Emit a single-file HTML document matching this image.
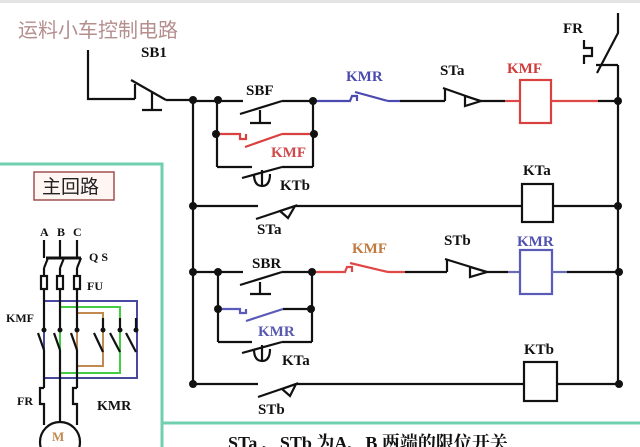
<!DOCTYPE html>
<html><head><meta charset="utf-8"><style>
html,body{margin:0;padding:0;background:#fff;width:640px;height:447px;overflow:hidden}
svg{display:block}
text{font-family:"Liberation Serif","Noto Serif CJK SC",serif;font-weight:bold}
</style></head><body>
<svg width="640" height="447" viewBox="0 0 640 447" xmlns="http://www.w3.org/2000/svg">
<rect x="0" y="0" width="640" height="447" fill="#fff"/>
<rect x="0" y="0" width="640" height="3" fill="#e4e4e4"/>
<text x="18" y="37" font-size="20" fill="#b58e8e" style="font-family:'Noto Sans CJK SC',sans-serif;font-weight:normal">运料小车控制电路</text>

<g stroke="#6fcfae" stroke-width="3" fill="none">
<polyline points="0,164 162,164 162,447"/>
<line x1="162" y1="423" x2="640" y2="423"/>
</g>

<g stroke="#111" stroke-width="2.2" fill="none">
<polyline points="88,50 88,99 135,99"/>
<line x1="135" y1="84" x2="135" y2="99"/>
<line x1="131" y1="80" x2="166" y2="100"/>
<line x1="166" y1="100" x2="193" y2="100"/>
<line x1="152" y1="92" x2="152" y2="110"/>
<line x1="142" y1="110" x2="162" y2="110"/>
<line x1="193" y1="100" x2="193" y2="384"/>
<line x1="618" y1="65" x2="618" y2="384"/>
<polyline points="618,13 618,33 597,73"/>
<polyline points="596,65 618,65"/>
<polyline points="584,40 584,48 592,48 592,56 584,56 584,64"/>
<line x1="193" y1="101" x2="243" y2="101"/>
<line x1="240" y1="114" x2="282" y2="101"/>
<line x1="282" y1="101" x2="313" y2="101"/>
<line x1="260" y1="110" x2="260" y2="123"/>
<line x1="250" y1="123" x2="271" y2="123"/>
<line x1="217" y1="101" x2="217" y2="167"/>
<line x1="313" y1="101" x2="313" y2="167"/>
<polyline points="217,167 252,167"/>
<line x1="242" y1="178" x2="282" y2="167"/>
<line x1="282" y1="167" x2="313" y2="167"/>
<line x1="262" y1="170" x2="262" y2="187"/>
<path d="M254,174 Q254,186 262,186 Q270,186 270,174"/>
<line x1="400" y1="101" x2="445" y2="101"/>
<line x1="445" y1="89" x2="445" y2="101"/>
<line x1="443" y1="88" x2="480" y2="101"/>
<polygon points="465,96 481,101 465,106"/>
<line x1="481" y1="101" x2="505" y2="101"/>
<line x1="193" y1="206" x2="258" y2="206"/>
<line x1="256" y1="219" x2="295" y2="206"/>
<polygon points="280,211 295,206 288,218"/>
<line x1="295" y1="206" x2="522" y2="206"/>
<rect x="522" y="184" width="31" height="38"/>
<line x1="553" y1="206" x2="618" y2="206"/>
<line x1="193" y1="272" x2="243" y2="272"/>
<line x1="240" y1="285" x2="282" y2="272"/>
<line x1="282" y1="272" x2="312" y2="272"/>
<line x1="260" y1="282" x2="260" y2="294"/>
<line x1="250" y1="294" x2="271" y2="294"/>
<line x1="218" y1="272" x2="218" y2="342"/>
<line x1="312" y1="272" x2="312" y2="342"/>
<line x1="218" y1="342" x2="252" y2="342"/>
<line x1="242" y1="353" x2="282" y2="342"/>
<line x1="282" y1="342" x2="312" y2="342"/>
<line x1="262" y1="345" x2="262" y2="362"/>
<path d="M254,349 Q254,361 262,361 Q270,361 270,349"/>
<line x1="405" y1="272" x2="447" y2="272"/>
<line x1="447" y1="260" x2="447" y2="272"/>
<line x1="445" y1="259" x2="487" y2="272"/>
<polygon points="470,267 487,272 470,277"/>
<line x1="487" y1="272" x2="508" y2="272"/>
<line x1="567" y1="272" x2="618" y2="272"/>
<line x1="193" y1="384" x2="258" y2="384"/>
<line x1="258" y1="397" x2="296" y2="384"/>
<polygon points="282,389 296,384 290,396"/>
<line x1="296" y1="384" x2="524" y2="384"/>
<rect x="524" y="362" width="33" height="39"/>
<line x1="557" y1="384" x2="618" y2="384"/>
</g>
<g stroke-width="2.2" fill="none">
<polyline stroke="#4a4ab0" points="313,101 350,101 352,96 357,96 357,101"/>
<line stroke="#4a4ab0" x1="355" y1="92" x2="388" y2="101"/>
<line stroke="#4a4ab0" x1="388" y1="101" x2="400" y2="101"/>
<line stroke="#e04848" x1="505" y1="101" x2="520" y2="101"/>
<rect stroke="#d94040" x="520" y="80" width="31" height="43"/>
<line stroke="#e04848" x1="551" y1="101" x2="598" y2="101"/>
<line stroke="#111" x1="598" y1="101" x2="618" y2="101"/>
<polyline stroke="#d94040" points="217,134 240,134 240,139 246,139 246,134"/>
<line stroke="#d94040" x1="245" y1="147" x2="282" y2="134"/>
<line stroke="#d94040" x1="282" y1="134" x2="313" y2="134"/>
<polyline stroke="#e04848" points="312,272 345,272 347,267 352,267 352,272"/>
<line stroke="#e04848" x1="350" y1="263" x2="388" y2="272"/>
<line stroke="#e04848" x1="388" y1="272" x2="405" y2="272"/>
<line stroke="#6a6ab8" x1="508" y1="272" x2="520" y2="272"/>
<rect stroke="#5a5ab8" x="520" y="250" width="32" height="44"/>
<line stroke="#6a6ab8" x1="552" y1="272" x2="567" y2="272"/>
<polyline stroke="#5a5ab8" points="218,309 240,309 240,313 246,313 246,309"/>
<line stroke="#5a5ab8" x1="246" y1="321" x2="283" y2="309"/>
<line stroke="#111" x1="283" y1="309" x2="311" y2="309"/>
</g>
<g fill="#111">
<circle cx="193" cy="100" r="4"/><circle cx="218" cy="100" r="4"/><circle cx="313" cy="101" r="4"/>
<circle cx="618" cy="101" r="4"/><circle cx="216" cy="134" r="4"/><circle cx="314" cy="134" r="4"/>
<circle cx="193" cy="206" r="4"/><circle cx="618" cy="206" r="4"/>
<circle cx="193" cy="272" r="4"/><circle cx="218" cy="272" r="4"/><circle cx="312" cy="272" r="4"/><circle cx="619" cy="272" r="4"/>
<circle cx="218" cy="309" r="4"/><circle cx="311" cy="309" r="4"/>
<circle cx="193" cy="384" r="4"/><circle cx="619" cy="384" r="4"/>
</g>
<g font-size="15">
<text x="141" y="57" fill="#111">SB1</text>
<text x="246" y="95" fill="#111">SBF</text>
<text x="346" y="81" fill="#4a4ab0">KMR</text>
<text x="440" y="75" fill="#111">STa</text>
<text x="507" y="73" fill="#d03a3a">KMF</text>
<text x="563" y="33" fill="#111">FR</text>
<text x="271" y="157" fill="#d04848">KMF</text>
<text x="280" y="190" fill="#111">KTb</text>
<text x="523" y="175" fill="#111">KTa</text>
<text x="257" y="234" fill="#111">STa</text>
<text x="352" y="253" fill="#c07a40">KMF</text>
<text x="444" y="245" fill="#111">STb</text>
<text x="517" y="246" fill="#5050b0">KMR</text>
<text x="252" y="268" fill="#111">SBR</text>
<text x="258" y="336" fill="#5858b0">KMR</text>
<text x="282" y="365" fill="#111">KTa</text>
<text x="524" y="354" fill="#111">KTb</text>
<text x="258" y="414" fill="#111">STb</text>
</g>
<text x="228" y="449" font-size="18" fill="#111" style="font-family:'Liberation Serif','Noto Serif CJK SC',serif">STa 、STb 为A、B 两端的限位开关</text>

<rect x="34" y="172" width="80" height="28" fill="#fff6f4" stroke="#a05050" stroke-width="1.5"/>
<text x="42" y="193" font-size="19" fill="#222" style="font-family:'Noto Sans CJK SC',sans-serif;font-weight:normal">主回路</text>
<g font-size="12" fill="#111">
<text x="40" y="236">A</text><text x="57" y="236">B</text><text x="73" y="236">C</text>
<text x="89" y="261">Q S</text><text x="87" y="290">FU</text>
<text x="6" y="322">KMF</text><text x="17" y="405">FR</text>
<text x="97" y="410" font-size="14">KMR</text>
</g>
<g fill="none" stroke-width="2">
<rect x="44" y="301" width="93" height="77" stroke="#4848a0"/>
<rect x="60" y="307" width="60" height="66" stroke="#44cc44"/>
<polyline points="77,366 77,313 103,313 103,366 77,366" stroke="#c08a50"/>
</g>
<g stroke="#111" stroke-width="2.2" fill="none">
<line x1="44" y1="240" x2="44" y2="258"/><line x1="60" y1="240" x2="60" y2="258"/><line x1="77" y1="240" x2="77" y2="258"/>
<line x1="46" y1="258" x2="81" y2="258" stroke-width="3"/>
<line x1="48" y1="258" x2="44" y2="268"/><line x1="64" y1="258" x2="60" y2="268"/><line x1="81" y1="258" x2="77" y2="268"/>
<line x1="44" y1="268" x2="44" y2="330"/><line x1="60" y1="268" x2="60" y2="330"/><line x1="77" y1="268" x2="77" y2="330"/>
<rect x="41" y="276" width="6" height="13" fill="#fff"/><rect x="57" y="276" width="6" height="13" fill="#fff"/><rect x="74" y="276" width="6" height="13" fill="#fff"/>
<line x1="38" y1="333" x2="44" y2="350"/><line x1="54" y1="333" x2="60" y2="350"/><line x1="71" y1="333" x2="77" y2="350"/>
<line x1="94" y1="333" x2="103" y2="352"/><line x1="110" y1="333" x2="120" y2="352"/><line x1="126" y1="333" x2="136" y2="352"/>
<line x1="103" y1="330" x2="103" y2="318"/><line x1="120" y1="330" x2="120" y2="318"/><line x1="136" y1="330" x2="136" y2="318"/>
<line x1="44" y1="350" x2="44" y2="388"/><line x1="60" y1="350" x2="60" y2="425"/><line x1="77" y1="350" x2="77" y2="388"/>
<polyline points="44,388 40,388 40,404 44,404 44,425"/>
<polyline points="77,388 73,388 73,404 77,404 77,425"/>
</g>
<g fill="#111"><circle cx="44" cy="330" r="2.5"/><circle cx="60" cy="330" r="2.5"/><circle cx="77" cy="330" r="2.5"/><circle cx="103" cy="330" r="2.5"/><circle cx="120" cy="330" r="2.5"/><circle cx="136" cy="330" r="2.5"/></g>
<circle cx="60" cy="442" r="20" fill="#fff" stroke="#111" stroke-width="2.2"/>
<text x="52" y="441" font-size="13" fill="#c08a50" font-weight="normal">M</text>
</svg>
</body></html>
